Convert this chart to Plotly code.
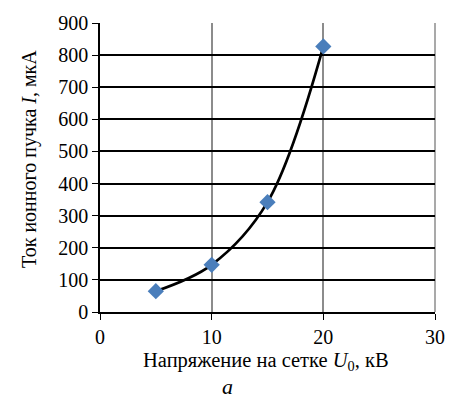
import plotly.graph_objects as go

voltage_kv = [5, 10, 15, 20]
current_ua = [65, 147, 342, 827]
x_ticks = [0, 10, 20, 30]
y_ticks = [0, 100, 200, 300, 400, 500, 600, 700, 800, 900]

font = "Times New Roman, Liberation Serif, serif"
plot_left, plot_right = 100, 444
plot_top, plot_bottom = 19, 312

def paper_y(py):
    return (plot_bottom - py) / (plot_bottom - plot_top)

def paper_x(px):
    return (px - plot_left) / (plot_right - plot_left)

fig = go.Figure()
fig.add_trace(go.Scatter(
    x=voltage_kv, y=current_ua, mode="lines",
    line=dict(color="black", width=2.7, shape="spline", smoothing=1.0),
    showlegend=False, hoverinfo="skip"))
fig.add_trace(go.Scatter(
    x=voltage_kv, y=current_ua, mode="markers",
    marker=dict(symbol="diamond", size=12.5, color="#4a7ebb"),
    showlegend=False))

fig.update_layout(
    width=457, height=405,
    margin=dict(l=plot_left, r=457 - plot_right, t=plot_top, b=405 - plot_bottom),
    paper_bgcolor="white", plot_bgcolor="white",
    font=dict(family=font, size=20, color="black"),
    xaxis=dict(range=[0, 30], tickvals=x_ticks, showgrid=True, gridcolor="#8c8c8c",
               gridwidth=1.5, showline=True, linecolor="black", linewidth=1.5,
               ticks="outside", ticklen=6, tickcolor="black", zeroline=False,
               tickfont=dict(family=font, size=20)),
    yaxis=dict(range=[0, 900], tickvals=y_ticks, showgrid=True, gridcolor="black",
               gridwidth=1.5, showline=True, linecolor="black", linewidth=1.5,
               ticks="outside", ticklen=6, tickcolor="black", zeroline=False,
               tickfont=dict(family=font, size=20)),
    annotations=[
        dict(text="Напряжение на сетке <i>U</i><sub>0</sub>, кВ", x=paper_x(270), xref="paper",
             y=paper_y(362), yref="paper", yanchor="middle", xanchor="center",
             showarrow=False, font=dict(family=font, size=20.5)),
        dict(text="Ток ионного пучка <i>I</i>, мкА", x=paper_x(27), xref="paper",
             y=paper_y(157), yref="paper", yanchor="middle", xanchor="center",
             showarrow=False, textangle=-90, font=dict(family=font, size=20)),
        dict(text="<i>a</i>", x=paper_x(231), xref="paper", y=paper_y(388),
             yref="paper", yanchor="middle", xanchor="center", showarrow=False,
             font=dict(family=font, size=22)),
    ],
    shapes=[dict(type="line", xref="paper", yref="paper", x0=1, x1=1, y0=0, y1=1,
                 line=dict(color="#8c8c8c", width=1.5), layer="below")],
)

fig.write_html("out.html")
